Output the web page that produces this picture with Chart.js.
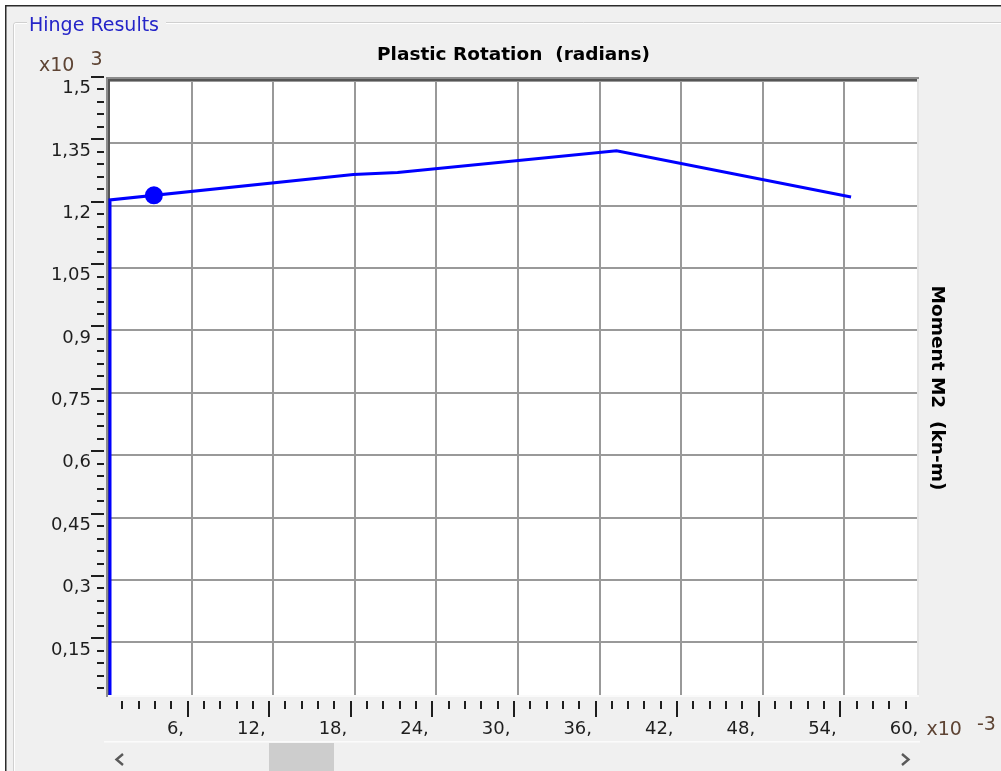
<!DOCTYPE html>
<html><head><meta charset="utf-8">
<style>html,body{margin:0;padding:0;background:#f0f0f0;overflow:hidden;} canvas{display:block;}</style>
<script src="https://cdn.jsdelivr.net/npm/chart.js@4.4.1/dist/chart.umd.min.js"></script>
</head><body>
<canvas id="c" width="1001" height="771"></canvas>
<script>
// ---- data (x in 1e-3 rad, y in 1e3 kN-m) ----
const rotation = [0, 0, 17.9, 21.15, 37.25, 54.5];
const moment = [0, 1.214, 1.275, 1.280, 1.332, 1.221];
const currentRotation = [3.23];
const currentMoment = [1.225];
const xTickValues = [6, 12, 18, 24, 30, 36, 42, 48, 54, 60];
const xTickLabels = ['6,', '12,', '18,', '24,', '30,', '36,', '42,', '48,', '54,', '60,'];
const yTickValues = [0.15, 0.3, 0.45, 0.6, 0.75, 0.9, 1.05, 1.2, 1.35, 1.5];
const yTickLabels = ['0,15', '0,3', '0,45', '0,6', '0,75', '0,9', '1,05', '1,2', '1,35', '1,5'];
const xMin = 0, xMax = 59.35, yMin = 0.0234, yMax = 1.5;

const FONT = '"DejaVu Sans", "Liberation Sans", sans-serif';

const deco = {
  id: 'deco',
  beforeDraw(chart) {
    const ctx = chart.ctx, W = chart.width, H = chart.height;
    ctx.save();
    ctx.fillStyle = '#ffffff'; ctx.fillRect(0, 0, W, H);
    ctx.fillStyle = '#f0f0f0'; ctx.fillRect(6, 6, W - 6, H - 6);
    ctx.fillStyle = '#2b2b2b'; ctx.fillRect(5, 5, W - 5, 1.5); ctx.fillRect(5, 5, 1.5, H - 5);
    // group box (etched)
    ctx.lineWidth = 1;
    ctx.strokeStyle = '#d0d0d0';
    ctx.beginPath();
    ctx.moveTo(27, 22.5); ctx.lineTo(16, 22.5); ctx.quadraticCurveTo(13.5, 22.5, 13.5, 25); ctx.lineTo(13.5, H);
    ctx.moveTo(166, 22.5); ctx.lineTo(W, 22.5);
    ctx.stroke();
    ctx.strokeStyle = '#ffffff';
    ctx.beginPath();
    ctx.moveTo(27, 23.5); ctx.lineTo(16, 23.5); ctx.quadraticCurveTo(14.5, 23.5, 14.5, 25); ctx.lineTo(14.5, H);
    ctx.moveTo(166, 23.5); ctx.lineTo(W, 23.5);
    ctx.stroke();
    ctx.font = '19px ' + FONT; ctx.textAlign = 'left'; ctx.textBaseline = 'alphabetic';
    ctx.fillStyle = '#2424c8';
    ctx.fillText('Hinge Results', 29, 30.5);
    // multipliers
    ctx.fillStyle = '#5e4434';
    ctx.fillText('x10', 39, 70.5); ctx.fillText('3', 90.5, 65);
    ctx.fillText('x10', 926.5, 735); ctx.fillText('-3', 977, 730);
    // scrollbar
    ctx.fillStyle = '#fbfbfb'; ctx.fillRect(104, 741, 816, 1.5);
    ctx.fillStyle = '#cdcdcd'; ctx.fillRect(269, 743, 65, H - 743);
    ctx.strokeStyle = '#5a5a5a'; ctx.lineWidth = 2.4; ctx.lineJoin = 'miter';
    ctx.beginPath();
    ctx.moveTo(123, 754); ctx.lineTo(116.5, 759.5); ctx.lineTo(123, 765);
    ctx.moveTo(902, 754); ctx.lineTo(908.5, 759.5); ctx.lineTo(902, 765);
    ctx.stroke();
    // plot background
    const a = chart.chartArea;
    ctx.fillStyle = '#ffffff'; ctx.fillRect(a.left, a.top, a.right - a.left, a.bottom - a.top);
    ctx.restore();
  },
  beforeDatasetsDraw(chart) {
    const ctx = chart.ctx, a = chart.chartArea;
    const xs = chart.scales.x, ys = chart.scales.y;
    ctx.save();
    // sunken frame
    ctx.fillStyle = '#e4e4e4'; ctx.fillRect(a.right, a.top - 2, 2, a.bottom - a.top + 4);
    ctx.fillStyle = '#fafafa'; ctx.fillRect(a.left - 2, a.bottom, a.right - a.left + 4, 2);
    ctx.fillStyle = '#8c8c8c'; ctx.fillRect(a.left - 4, a.top - 4, a.right - a.left + 6, 2); ctx.fillRect(a.left - 4, a.top - 4, 2, a.bottom - a.top + 6);
    ctx.fillStyle = '#555555'; ctx.fillRect(a.left - 2, a.top - 2, a.right - a.left + 2, 2); ctx.fillRect(a.left - 2, a.top - 2, 2, a.bottom - a.top + 2);
    // tick marks
    ctx.strokeStyle = '#1e1e1e'; ctx.lineWidth = 2;
    ctx.beginPath();
    for (let i = 1; i <= 50; i++) {
      const v = i * 1.2; if (v > xs.max) break;
      const p = Math.round(xs.getPixelForValue(v) - 4);
      ctx.moveTo(p, 701); ctx.lineTo(p, i % 5 === 0 ? 717 : 709);
    }
    for (let j = 1; j <= 50; j++) {
      const v = j * 0.03; if (v < ys.min) continue;
      const p = Math.round(ys.getPixelForValue(v) - 4);
      ctx.moveTo(j % 5 === 0 ? 91 : 97, p); ctx.lineTo(104, p);
    }
    ctx.stroke();
    ctx.restore();
  }
};

const curve = rotation.map((r, i) => ({ x: r, y: moment[i] }));
const current = currentRotation.map((r, i) => ({ x: r, y: currentMoment[i] }));

new Chart(document.getElementById('c'), {
  type: 'line',
  data: {
    datasets: [
      { data: current, showLine: false, pointRadius: 9, pointHoverRadius: 9, pointBackgroundColor: '#0000ff', pointBorderWidth: 0, borderColor: '#0000ff' },
      { data: curve, borderColor: '#0000ff', borderWidth: 3, pointRadius: 0, tension: 0, fill: false, clip: { left: 4, top: 4, right: 4, bottom: 0 } }
    ]
  },
  options: {
    responsive: false, animation: false, devicePixelRatio: 1,
    layout: { padding: 0 },
    plugins: {
      legend: { display: false }, tooltip: { enabled: false },
      title: {
        display: true, text: 'Plastic Rotation  (radians)', fullSize: false, color: '#000000',
        font: { family: FONT, size: 18.5, weight: 'bold', lineHeight: 1.2 },
        padding: { top: 43.9, bottom: 14.9 }
      }
    },
    scales: {
      x: {
        type: 'linear', position: 'bottom', min: xMin, max: xMax,
        afterBuildTicks: s => { s.ticks = xTickValues.map(v => ({ value: v })); },
        afterFit: s => { s.height = 76; },
        ticks: {
          autoSkip: false, maxRotation: 0, minRotation: 0, align: 'end', labelOffset: -7.5, padding: 24,
          callback: (v, i) => xTickLabels[i], color: '#1e1e1e', font: { family: FONT, size: 18 }
        },
        grid: {
          drawTicks: false, lineWidth: 2,
          color: c => (c.tick && c.tick.value > xMax) ? 'rgba(0,0,0,0)' : '#999999'
        },
        border: { display: false }
      },
      y: {
        type: 'linear', position: 'left', min: yMin, max: yMax,
        afterBuildTicks: s => { s.ticks = yTickValues.map(v => ({ value: v })); },
        afterFit: s => { s.width = 110; },
        ticks: {
          autoSkip: false, padding: 19, labelOffset: 7.5,
          callback: (v, i) => yTickLabels[i], color: '#1e1e1e', font: { family: FONT, size: 18 }
        },
        grid: { drawTicks: false, color: '#999999', lineWidth: 2 },
        border: { display: false }
      },
      y2: {
        type: 'linear', position: 'right', min: yMin, max: yMax,
        afterFit: s => { s.width = 84; },
        ticks: { display: false },
        grid: { display: false, drawTicks: false },
        border: { display: false },
        title: {
          display: true, text: 'Moment M2  (kn-m)', color: '#000000',
          font: { family: FONT, size: 18.5, weight: 'bold', lineHeight: 1.2 },
          padding: { top: 52.9, bottom: 0 }
        }
      }
    }
  },
  plugins: [deco]
});
</script>
</body></html>
